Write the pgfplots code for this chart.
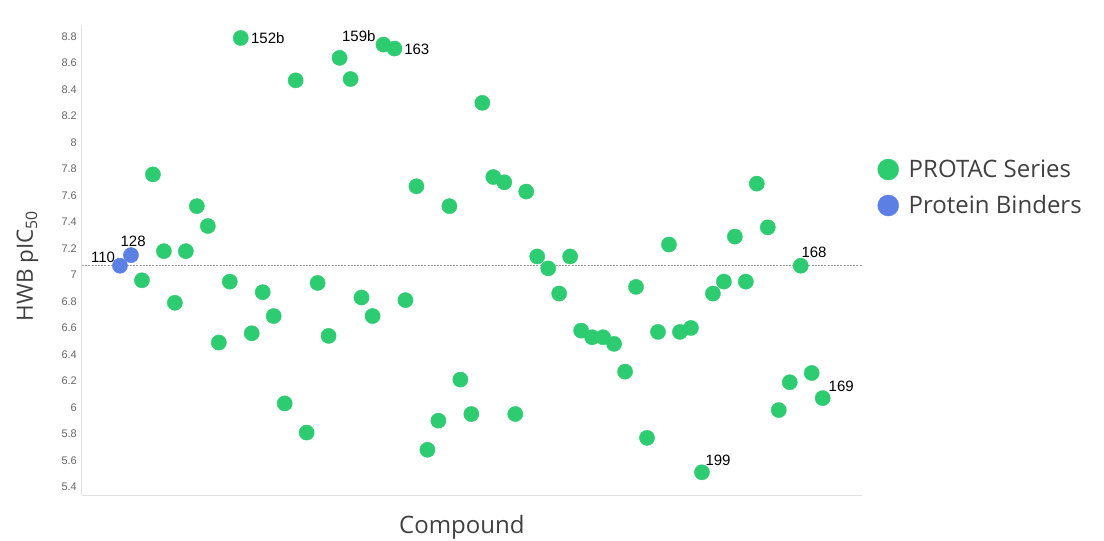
\documentclass[border=0pt]{standalone}
\usepackage{fontspec}
\setmainfont{Liberation Sans}
\newfontfamily\osans{Open Sans}
\usepackage{pgfplots}
\pgfplotsset{compat=1.18}
\definecolor{protac}{HTML}{2ECC71}
\definecolor{binder}{HTML}{5B7FE3}
\definecolor{titlegray}{HTML}{404040}
\begin{document}
\begin{tikzpicture}
\path[use as bounding box] (-82pt,-46pt) rectangle (1022pt,495pt);
\begin{axis}[
  at={(0pt,0pt)}, anchor=south west,
  scale only axis, width=780pt, height=470pt,
  xmin=-2.46, xmax=68.58, ymin=5.3385, ymax=8.888,
  axis lines*=left,
  axis line style={-, draw=black!12, line width=1pt},
  xtick=\empty,
  ytick={5.4,5.6,5.8,6,6.2,6.4,6.6,6.8,7,7.2,7.4,7.6,7.8,8,8.2,8.4,8.6,8.8},
  major tick length=0pt,
  /pgf/number format/assume math mode=true,
  yticklabel style={font=\fontsize{11}{13}\selectfont, text=black!60, inner sep=0pt, xshift=-5pt},
  ylabel={HWB pIC\textsubscript{50}},
  ylabel style={at={(axis description cs:-0.0699,0.487)}, anchor=center, rotate=0,
    font=\osans\fontsize{22.5}{26}\selectfont, text=titlegray},
  xlabel={Compound},
  xlabel style={at={(axis description cs:0.487,-0.068)}, anchor=center,
    font=\osans\fontsize{24}{28}\selectfont, text=titlegray},
  clip=false,
  legend style={draw=none, fill=none, at={(1.0199,0.7153)}, anchor=north west,
    font=\osans\fontsize{24}{28}\selectfont, text=titlegray,
    row sep=15pt, column sep=10pt, inner sep=0pt, nodes={inner sep=0pt}},
  legend cell align=left,
  legend image code/.code={\draw[#1, mark size=10.5pt] plot coordinates {(10.5pt,0pt)};},
]
% reference level at compound 110
\addplot[forget plot, black!40, line width=0.9pt, dash pattern=on 2pt off 1.2pt]
  coordinates {(-2.46,7.07) (68.58,7.07)};

\addplot[only marks, color=protac, mark=*, mark size=7.6pt, mark options={draw=protac, fill=protac}]
  table[x=x, y=y] {
x y
3 6.96
4 7.76
5 7.18
6 6.79
7 7.18
8 7.52
9 7.37
10 6.49
11 6.95
12 8.79
13 6.56
14 6.87
15 6.69
16 6.03
17 8.47
18 5.81
19 6.94
20 6.54
21 8.64
22 8.48
23 6.83
24 6.69
25 8.74
26 8.71
27 6.81
28 7.67
29 5.68
30 5.90
31 7.52
32 6.21
33 5.95
34 8.30
35 7.74
36 7.70
37 5.95
38 7.63
39 7.14
40 7.05
41 6.86
42 7.14
43 6.58
44 6.53
45 6.53
46 6.48
47 6.27
48 6.91
49 5.77
50 6.57
51 7.23
52 6.57
53 6.60
54 5.51
55 6.86
56 6.95
57 7.29
58 6.95
59 7.69
60 7.36
61 5.98
62 6.19
63 7.07
64 6.26
65 6.07
};
\addlegendentry{PROTAC Series}

\addplot[only marks, color=binder, mark=*, mark size=7.6pt, mark options={draw=binder, fill=binder}]
  table[x=x, y=y] {
x y
1 7.07
2 7.15
};
\addlegendentry{Protein Binders}

% compound labels
\begin{scope}[every node/.style={font=\fontsize{15}{18}\selectfont, text=black}]
\node[xshift=-17pt, yshift=8.7pt] at (axis cs:1,7.07) {110};
\node[xshift=2.2pt, yshift=13.7pt] at (axis cs:2,7.15) {128};
\node[xshift=27pt, yshift=0.3pt] at (axis cs:12,8.79) {152b};
\node[xshift=-24.7pt, yshift=8.2pt] at (axis cs:25,8.74) {159b};
\node[xshift=22.3pt, yshift=-1.2pt] at (axis cs:26,8.71) {163};
\node[xshift=13.3pt, yshift=13.2pt] at (axis cs:63,7.07) {168};
\node[xshift=18.5pt, yshift=11.4pt] at (axis cs:65,6.07) {169};
\node[xshift=16.1pt, yshift=11.5pt] at (axis cs:54,5.51) {199};
\end{scope}
\end{axis}
\end{tikzpicture}
\end{document}
